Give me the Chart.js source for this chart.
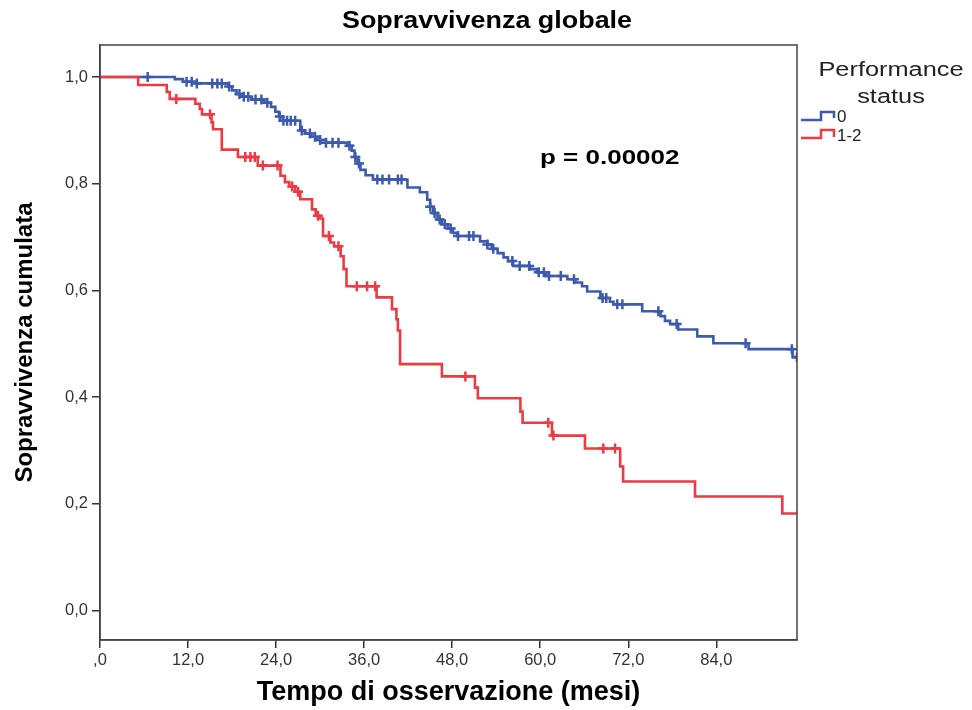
<!DOCTYPE html>
<html><head><meta charset="utf-8">
<script src="https://cdn.jsdelivr.net/npm/chart.js@4/dist/chart.umd.min.js"></script>
<style>
html,body{margin:0;padding:0;background:#fff;}
#wrap{position:relative;width:972px;height:710px;font-family:"Liberation Sans",Arial,sans-serif;overflow:hidden;}
canvas{position:absolute;left:0;top:0;}
.ov{position:absolute;white-space:nowrap;color:#000;}
#title{left:487px;top:6px;font-size:23px;line-height:28px;font-weight:bold;transform:translateX(-50%) scaleX(1.17);}
#pval{left:540px;top:145px;font-size:20px;line-height:24px;font-weight:bold;transform-origin:left center;transform:scaleX(1.3);}
#legTitle{left:891px;top:56px;font-size:19.5px;line-height:27px;text-align:center;color:#222;transform:translateX(-50%) scaleX(1.3);}
.legLab{left:837px;font-size:17px;line-height:20px;color:#222;}
#leg0{top:107px;}
#leg1{top:126px;}
#legIcons{position:absolute;left:0;top:0;}
</style></head><body>
<div id="wrap">
<canvas id="c" width="972" height="710"></canvas>
<div class="ov" id="title">Sopravvivenza globale</div>
<div class="ov" id="pval">p = 0.00002</div>
<div class="ov" id="legTitle">Performance<br>status</div>
<svg id="legIcons" width="972" height="710">
  <polyline points="801,120 821,120 821,112 834,112 834,118" fill="none" stroke="#3d5aae" stroke-width="2.5"/>
  <polyline points="801,138 821,138 821,130 834,130 834,137" fill="none" stroke="#ee3a43" stroke-width="2.5"/>
</svg>
<div class="ov legLab" id="leg0">0</div>
<div class="ov legLab" id="leg1">1-2</div>
</div>
<script>
// ---- data ----
const xTicks = [0, 12, 24, 36, 48, 60, 72, 84];
const yTicks = [0, 0.2, 0.4, 0.6, 0.8, 1.0];
const groupLabels = ['0', '1-2'];
const followUpEnd = 95;

// Performance status 0 : step start times (months) and cumulative survival
const ps0Time = [0, 10.2, 11.3, 13.0, 17.5, 18.0, 18.6, 19.3, 20.6, 22.3, 23.3, 23.9, 24.4, 24.9, 27.3, 27.9, 28.8, 29.6, 30.8, 33.7, 34.3, 34.7, 35.1, 35.5, 36.2, 37.2, 41.9, 43.6, 44.6, 45.0, 45.4, 46.0, 46.6, 47.4, 48.1, 48.7, 51.8, 52.8, 53.4, 54.2, 55.0, 55.6, 56.3, 58.6, 59.6, 60.8, 63.7, 64.8, 65.7, 66.4, 68.2, 69.5, 70.0, 73.9, 76.4, 77.0, 77.7, 78.8, 81.4, 83.6, 88.4, 94.4];
const ps0Surv = [1.000, 0.996, 0.991, 0.988, 0.982, 0.975, 0.968, 0.963, 0.958, 0.952, 0.944, 0.935, 0.926, 0.918, 0.900, 0.894, 0.888, 0.882, 0.877, 0.871, 0.862, 0.850, 0.838, 0.826, 0.816, 0.808, 0.793, 0.784, 0.770, 0.757, 0.745, 0.733, 0.724, 0.716, 0.708, 0.702, 0.692, 0.686, 0.678, 0.670, 0.662, 0.655, 0.646, 0.640, 0.634, 0.627, 0.621, 0.615, 0.608, 0.598, 0.586, 0.579, 0.574, 0.561, 0.552, 0.543, 0.537, 0.527, 0.514, 0.501, 0.490, 0.475];
const ps0Censored = [6.5, 11.8, 12.5, 13.2, 15.3, 16.0, 16.6, 17.6, 19.0, 19.6, 20.2, 21.2, 22.0, 22.8, 24.5, 25.0, 25.5, 26.0, 26.6, 27.5, 28.6, 29.3, 30.0, 30.8, 31.7, 32.5, 34.0, 34.8, 35.3, 37.8, 38.5, 39.4, 40.6, 41.1, 45.0, 45.6, 46.3, 47.0, 47.8, 48.8, 50.3, 50.9, 52.8, 53.6, 56.2, 57.2, 58.5, 59.8, 60.5, 61.2, 62.8, 64.6, 68.5, 69.0, 70.5, 71.2, 76.1, 78.6, 88.0, 94.3, 95.0];

// Performance status 1-2
const ps12Time = [0, 5.2, 9.1, 9.5, 13.0, 13.6, 13.9, 15.2, 15.4, 16.6, 18.8, 21.5, 24.6, 25.2, 25.8, 26.6, 27.3, 28.9, 29.4, 29.9, 30.4, 31.4, 31.9, 32.8, 33.2, 33.6, 37.7, 39.8, 40.4, 40.6, 40.9, 46.6, 51.1, 51.5, 57.3, 57.6, 61.6, 66.1, 70.9, 71.3, 81.1, 93.0];
const ps12Surv = [1.000, 0.985, 0.972, 0.959, 0.950, 0.940, 0.930, 0.915, 0.902, 0.864, 0.850, 0.834, 0.815, 0.803, 0.795, 0.785, 0.771, 0.752, 0.740, 0.735, 0.702, 0.690, 0.683, 0.664, 0.640, 0.608, 0.587, 0.565, 0.546, 0.525, 0.462, 0.439, 0.418, 0.398, 0.373, 0.352, 0.328, 0.304, 0.270, 0.242, 0.214, 0.182];
const ps12Censored = [10.4, 15.0, 19.8, 20.5, 21.1, 22.2, 24.2, 26.2, 27.0, 29.7, 31.2, 32.5, 35.0, 36.4, 37.5, 49.8, 61.1, 61.8, 68.6, 70.2];

// ---- helpers ----
const BLUE = '#3d5aae', RED = '#ee3a43';
const FAMILY = '"Liberation Sans", Arial, sans-serif';
function curve(times, surv) {
  const pts = times.map((t, i) => ({x: t, y: surv[i]}));
  pts.push({x: followUpEnd, y: surv[surv.length - 1]});
  return pts;
}
function survAt(times, surv, t) {
  let s = surv[0];
  for (let i = 0; i < times.length; i++) { if (times[i] <= t) s = surv[i]; }
  return s;
}
function marks(cens, times, surv) {
  return cens.map(t => ({x: t, y: survAt(times, surv, t)}));
}
function lineDs(label, data, color, order) {
  return {label, data, borderColor: color, backgroundColor: color, borderWidth: 2.6,
    stepped: true, pointRadius: 0, fill: false, tension: 0, order};
}
function markDs(label, data, color) {
  return {label, data, showLine: false, borderColor: color, backgroundColor: color,
    pointStyle: 'cross', pointRadius: 5, borderWidth: 2.5, order: 0};
}

const framePlugin = {
  id: 'frame',
  afterDraw(chart) {
    const {ctx, chartArea: a} = chart;
    ctx.save();
    ctx.strokeStyle = '#444';
    ctx.lineWidth = 1.5;
    ctx.strokeRect(a.left, a.top, a.right - a.left, a.bottom - a.top);
    ctx.restore();
  }
};

new Chart(document.getElementById('c'), {
  type: 'line',
  data: {
    datasets: [
      lineDs(groupLabels[1], curve(ps12Time, ps12Surv), RED, 1),
      lineDs(groupLabels[0], curve(ps0Time, ps0Surv), BLUE, 2),
      markDs(groupLabels[1] + ' censurati', marks(ps12Censored, ps12Time, ps12Surv), RED),
      markDs(groupLabels[0] + ' censurati', marks(ps0Censored, ps0Time, ps0Surv), BLUE)
    ]
  },
  options: {
    responsive: false,
    animation: false,
    devicePixelRatio: 1,
    layout: {padding: {left: 0, right: 175, top: 45, bottom: 0}},
    plugins: {legend: {display: false}, tooltip: {enabled: false}, title: {display: false}},
    scales: {
      x: {
        type: 'linear', min: 0, max: followUpEnd,
        afterBuildTicks: s => { s.ticks = xTicks.map(v => ({value: v})); },
        afterFit: s => { s.height = 70; },
        ticks: {
          callback: v => v === 0 ? ',0' : v.toFixed(1).replace('.', ','),
          font: {size: 16.5, family: FAMILY}, color: '#333', padding: 3, maxRotation: 0, autoSkip: false
        },
        grid: {display: true, drawOnChartArea: false, drawTicks: true, tickLength: 8, color: '#333', lineWidth: 1.5},
        border: {display: true, color: '#444', width: 1.5},
        title: {display: true, text: 'Tempo di osservazione (mesi)', color: '#000',
          font: {size: 27, weight: 'bold', family: FAMILY}, padding: {top: 0, bottom: 1}}
      },
      y: {
        type: 'linear', min: -0.055, max: 1.06,
        afterBuildTicks: s => { s.ticks = yTicks.map(v => ({value: v})); },
        afterFit: s => { s.width = 100; },
        ticks: {
          callback: v => v.toFixed(1).replace('.', ','),
          font: {size: 16.5, family: FAMILY}, color: '#333', padding: 4, autoSkip: false
        },
        grid: {display: true, drawOnChartArea: false, drawTicks: true, tickLength: 8, color: '#333', lineWidth: 1.5},
        border: {display: true, color: '#444', width: 1.5},
        title: {display: true, text: 'Sopravvivenza cumulata', color: '#000',
          font: {size: 24, weight: 'bold', family: FAMILY}, padding: {top: 11, bottom: 0}}
      }
    }
  },
  plugins: [framePlugin]
});
</script>
</body></html>
